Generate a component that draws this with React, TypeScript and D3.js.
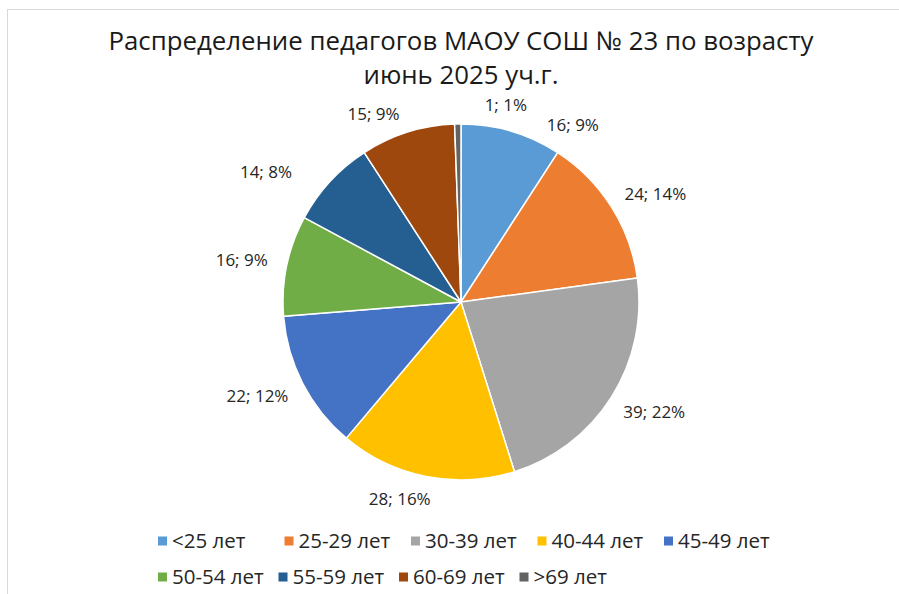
import React, { useEffect, useRef } from "react";
import * as d3 from "d3";

const categories = ["<25 лет", "25-29 лет", "30-39 лет", "40-44 лет", "45-49 лет", "50-54 лет", "55-59 лет", "60-69 лет", ">69 лет"];
const values = [16, 24, 39, 28, 22, 16, 14, 15, 1];
const percentLabels = ["9%", "14%", "22%", "16%", "12%", "9%", "8%", "9%", "1%"];
const colors = ["#5B9BD5", "#ED7D31", "#A5A5A5", "#FFC000", "#4472C4", "#70AD47", "#255E91", "#9E480E", "#636363"];
const titleLines = ["Распределение педагогов МАОУ СОШ № 23 по возрасту", "июнь 2025 уч.г."];

// layout tweaks for data labels (Excel "best fit" collision nudges)
const labelShiftDeg = [13.5, 0.5, 0, 4.2, 0, 0, -6.7, -5.5, 13];
const labelExtraR = [0, 0, 0, 0, 0, 0, 17, 0, -3];

const W = 899;
const H = 594;
const FONT = "'Open Sans', 'DejaVu Sans', sans-serif";

export default function App() {
  const ref = useRef<SVGSVGElement | null>(null);

  useEffect(() => {
    const svg = d3.select(ref.current);
    svg.selectAll("*").remove();

    svg.append("rect").attr("x", 0).attr("y", 0).attr("width", W).attr("height", H).attr("fill", "#ffffff");
    svg.append("rect").attr("x", 7.5).attr("y", 9.5).attr("width", W + 20).attr("height", H + 20)
      .attr("fill", "#ffffff").attr("stroke", "#d9d9d9").attr("stroke-width", 1);

    // title
    const title = svg.append("g");
    title.selectAll("text").data(titleLines).join("text")
      .attr("x", 461)
      .attr("y", (_d, i) => 50 + i * 34)
      .attr("text-anchor", "middle")
      .attr("font-family", FONT)
      .attr("font-size", 25.8)
      .attr("fill", "#1a1a1a")
      .text((d) => d);

    const cx = 461, cy = 302, r = 178;
    const pie = d3.pie<number>().sort(null).value((d) => d);
    const arcs = pie(values);
    const arc = d3.arc<d3.PieArcDatum<number>>().innerRadius(0).outerRadius(r);

    const g = svg.append("g").attr("transform", `translate(${cx},${cy})`);
    g.selectAll("path").data(arcs).join("path")
      .attr("d", arc as any)
      .attr("fill", (_d, i) => colors[i])
      .attr("stroke", "#ffffff")
      .attr("stroke-width", 1.5)
      .attr("stroke-linejoin", "round");

    // data labels
    const lbl = g.append("g");
    arcs.forEach((a, i) => {
      const t = lbl.append("text")
        .attr("font-family", FONT)
        .attr("font-size", 17)
        .attr("fill", "#262626")
        .attr("text-anchor", "middle")
        .attr("dy", "0.35em")
        .text(`${values[i]}; ${percentLabels[i]}`);
      const w = (t.node() as SVGTextElement).getComputedTextLength();
      const h = 13;
      const th = (a.startAngle + a.endAngle) / 2 + (labelShiftDeg[i] * Math.PI) / 180;
      const R = r + 20 + labelExtraR[i];
      const s = Math.sin(th), c = Math.cos(th);
      const x = R * s + (w / 2) * s;
      const y = -R * c - (h / 2) * c;
      t.attr("x", x).attr("y", y);
    });

    // legend
    const rows = [categories.slice(0, 5), categories.slice(5)];
    const rowY = [541, 577];
    const rowStep = [126.5, 120.5];
    const lg = svg.append("g");
    rows.forEach((row, ri) => {
      row.forEach((name, j) => {
        const idx = ri * 5 + j;
        const x0 = 158 + j * rowStep[ri];
        lg.append("rect").attr("x", x0).attr("y", rowY[ri] - 4.5).attr("width", 9).attr("height", 9).attr("fill", colors[idx]);
        lg.append("text").attr("x", x0 + 14).attr("y", rowY[ri]).attr("dy", "0.35em")
          .attr("font-family", FONT).attr("font-size", 20.5).attr("fill", "#262626").text(name);
      });
    });
  }, []);

  return (
    <svg ref={ref} width={W} height={H} style={{ position: "absolute", left: 0, top: 0, display: "block" }} />
  );
}
